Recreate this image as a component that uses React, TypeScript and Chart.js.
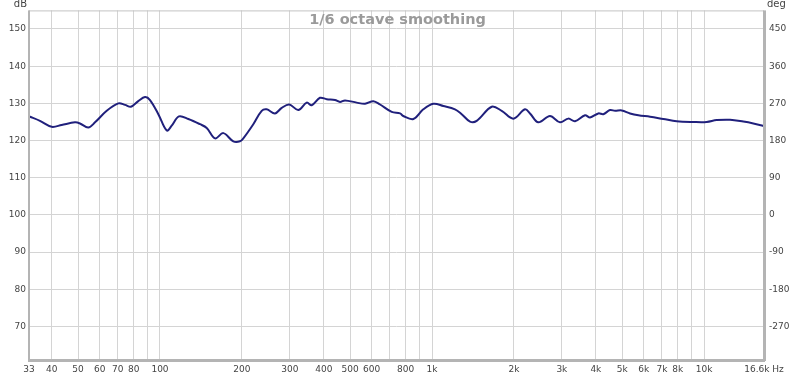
import React, { useEffect, useRef } from "react";
import { Chart, registerables } from "chart.js";

Chart.register(...registerables);

const freqs = [33, 33.3, 36.2, 40.0, 43.5, 48.7, 50.8, 54.5, 57.7, 63.7, 70.3, 74.4, 78.2, 83.2, 88.1, 91.9, 98.6, 105.9, 110.4, 117.4, 127.1, 140.3, 148.5, 159.4, 170.9, 186, 196.8, 202.4, 220.3, 236.5, 246.7, 264.7, 280.2, 298.8, 322.4, 346.2, 361, 387.3, 410.1, 439.8, 458.7, 478.8, 528.6, 567, 608.5, 643.9, 710.8, 762.6, 784, 853.4, 928.6, 1011, 1100, 1214, 1285, 1379, 1459, 1657, 1803, 1990, 2196, 2291, 2458, 2713, 2954, 3168, 3353, 3650, 3808, 4085, 4260, 4511, 4706, 4980, 5343, 5732, 6329, 7082, 7930, 9128, 10220, 11128, 12454, 13936, 15164, 16427, 16600];
const dbs = [126.5, 126.4, 125.3, 123.7, 124.2, 124.9, 124.6, 123.5, 124.9, 128.0, 130.0, 129.6, 129.1, 130.6, 131.7, 130.9, 127.1, 122.7, 124.0, 126.5, 125.8, 124.4, 123.4, 120.6, 122.0, 119.8, 119.8, 120.6, 124.4, 128.0, 128.4, 127.3, 128.8, 129.7, 128.2, 130.2, 129.5, 131.5, 131.1, 130.9, 130.4, 130.8, 130.2, 129.9, 130.6, 129.7, 127.7, 127.3, 126.6, 125.8, 128.4, 129.9, 129.3, 128.4, 127.1, 125.1, 125.3, 129.1, 128.0, 125.9, 128.4, 127.3, 124.9, 126.6, 124.9, 125.9, 125.2, 126.8, 126.2, 127.3, 127.1, 128.2, 128.0, 128.1, 127.3, 126.8, 126.4, 125.8, 125.2, 125.0, 125.0, 125.5, 125.6, 125.1, 124.6, 124.0, 123.9];

const xGrid = [40, 50, 60, 70, 80, 90, 100, 200, 300, 400, 500, 600, 700, 800, 900, 1000, 2000, 3000, 4000, 5000, 6000, 7000, 8000, 9000, 10000];
const xLabelValues = [33, 40, 50, 60, 70, 80, 100, 200, 300, 400, 500, 600, 800, 1000, 2000, 3000, 4000, 5000, 6000, 7000, 8000, 10000, 16600];
const xLabelTexts = ["33", "40", "50", "60", "70", "80", "100", "200", "300", "400", "500", "600", "800", "1k", "2k", "3k", "4k", "5k", "6k", "7k", "8k", "10k", "16.6k Hz"];
const dbTicks = [70, 80, 90, 100, 110, 120, 130, 140, 150];
const degTicks = [-270, -180, -90, 0, 90, 180, 270, 360, 450];

const title = "1/6 octave smoothing";
const dbMin = 61;
const dbMax = 155;

const FONT = "'DejaVu Sans', Verdana, sans-serif";

export default function App() {
  const ref = useRef<HTMLCanvasElement | null>(null);

  useEffect(() => {
    if (!ref.current) return;
    const overlay = {
      id: "overlay",
      beforeDatasetsDraw(chart: any) {
        const { ctx, chartArea: a } = chart;
        ctx.save();
        ctx.font = `bold 14.5px ${FONT}`;
        ctx.fillStyle = "#9a9a9a";
        ctx.textAlign = "center";
        ctx.textBaseline = "middle";
        ctx.fillText(title, (a.left + a.right) / 2 + 1, 20);
        ctx.restore();
      },
      afterDraw(chart: any) {
        const { ctx, chartArea: a } = chart;
        ctx.save();
        ctx.strokeStyle = "#c4c4c4";
        ctx.lineWidth = 1;
        ctx.strokeRect(a.left + 0.5, a.top + 0.5, a.right - a.left - 1, a.bottom - a.top - 1);
        ctx.fillStyle = "#b4b4b4";
        ctx.fillRect(a.left - 1, a.top, 2, a.bottom - a.top + 1);
        ctx.fillRect(a.left - 1, a.bottom - 1, a.right - a.left + 2, 3);
        ctx.fillRect(a.right - 1, a.top, 3, a.bottom - a.top + 1);
        ctx.font = `10px ${FONT}`;
        ctx.fillStyle = "#444";
        ctx.textBaseline = "middle";
        ctx.textAlign = "right";
        ctx.fillText("dB", 27, 4);
        ctx.textAlign = "left";
        ctx.fillText("deg", 767, 4);
        ctx.restore();
      },
    };

    const chart = new Chart(ref.current, {
      type: "line",
      data: {
        datasets: [
          {
            data: freqs.map((f, i) => ({ x: f, y: dbs[i] })),
            borderColor: "#20207c",
            borderWidth: 2,
            pointRadius: 0,
            tension: 0.35,
            fill: false,
          },
        ],
      },
      options: {
        animation: false,
        responsive: true,
        maintainAspectRatio: false,
        layout: { padding: { top: 10, left: 0, right: 0, bottom: 0 } },
        plugins: { legend: { display: false }, tooltip: { enabled: false }, title: { display: false } },
        scales: {
          x: {
            type: "logarithmic",
            min: 33,
            max: 16600,
            afterFit(s: any) {
              s.height = 17;
            },
            afterBuildTicks(s: any) {
              const vals = Array.from(new Set([...xGrid, ...xLabelValues])).sort((a, b) => a - b);
              s.ticks = vals.map((v) => ({ value: v }));
            },
            grid: {
              drawTicks: false,
              color: (c: any) => (xGrid.includes(c.tick?.value) ? "#d4d4d4" : "rgba(0,0,0,0)"),
              lineWidth: 1,
            },
            border: { display: false },
            ticks: {
              autoSkip: false,
              maxRotation: 0,
              padding: 4,
              color: "#444",
              font: { family: FONT, size: 9 },
              callback: (v: any) => {
                const i = xLabelValues.indexOf(Number(v));
                return i >= 0 ? xLabelTexts[i] : "";
              },
            },
          },
          y: {
            type: "linear",
            position: "left",
            min: dbMin,
            max: dbMax,
            afterFit(s: any) {
              s.width = 29;
            },
            afterBuildTicks(s: any) {
              s.ticks = dbTicks.map((v) => ({ value: v }));
            },
            grid: { drawTicks: false, color: "#d4d4d4", lineWidth: 1 },
            border: { display: false },
            ticks: { padding: 3, color: "#444", font: { family: FONT, size: 9 } },
          },
          y2: {
            type: "linear",
            position: "right",
            min: (dbMin - 100) * 9,
            max: (dbMax - 100) * 9,
            afterFit(s: any) {
              s.width = 36;
            },
            afterBuildTicks(s: any) {
              s.ticks = degTicks.map((v) => ({ value: v }));
            },
            grid: { display: false, drawTicks: false },
            border: { display: false },
            ticks: { padding: 5, color: "#444", font: { family: FONT, size: 9 } },
          },
        },
      },
      plugins: [overlay],
    } as any);
    return () => chart.destroy();
  }, []);

  return (
    <div style={{ position: "fixed", left: 0, top: 0, width: 800, height: 377, background: "#fff" }}>
      <canvas ref={ref} />
    </div>
  );
}
